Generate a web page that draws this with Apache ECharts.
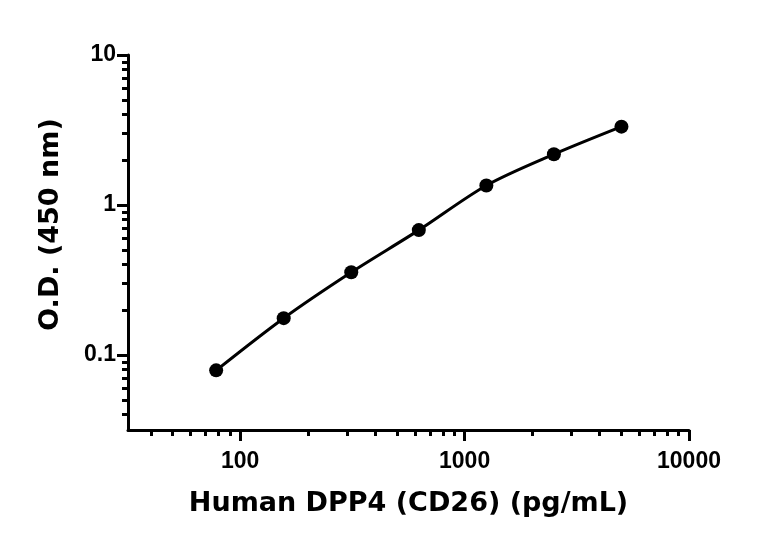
<!DOCTYPE html>
<html>
<head>
<meta charset="utf-8">
<script src="https://cdn.jsdelivr.net/npm/echarts@6/dist/echarts.min.js"></script>
<style>
  html, body { margin: 0; padding: 0; background: #fff; }
  #chart { width: 768px; height: 543px; }
</style>
</head>
<body>
<div id="chart"></div>
<script>
// standard curve readings
var conc = [78.125, 156.25, 312.5, 625, 1250, 2500, 5000];
var od = [0.079, 0.176, 0.356, 0.68, 1.35, 2.18, 3.33];

// axis range and labelled decades
var xRange = [31.62, 10000];
var yRange = [0.03162, 10];
var xTicks = [100, 1000, 10000];
var yTicks = [0.1, 1, 10];

var log = Math.log10;

function minorTicks(range) {
  var out = [];
  var lo = Math.floor(log(range[0])), hi = Math.ceil(log(range[1]));
  for (var n = lo; n < hi; n++) {
    for (var k = 2; k <= 9; k++) {
      var v = k * Math.pow(10, n);
      if (v >= range[0] && v <= range[1]) out.push(log(v));
    }
  }
  return out;
}

function fmt(v) {
  var p = Math.round(v);
  return p < 0 ? Math.pow(10, p).toFixed(-p) : String(Math.pow(10, p));
}

var tickFont = {
  fontFamily: "'Liberation Sans', Arial, sans-serif",
  fontWeight: "bold",
  fontSize: 23,
  color: "#000",
};
var nameFont = {
  fontFamily: "'DejaVu Sans', sans-serif",
  fontWeight: "bold",
  fontSize: 27,
  color: "#000",
};
var black = { color: "#000", width: 3 };

function axisPair(range, major, pos, title, nameGap, namePad) {
  var lo = log(range[0]), hi = log(range[1]);
  return [
    {
      type: "value",
      position: pos,
      min: lo,
      max: hi,
      name: title,
      nameLocation: "middle",
      nameGap: nameGap,
      nameTextStyle: Object.assign({ padding: namePad }, nameFont),
      axisLine: { show: true, onZero: false, lineStyle: black },
      axisTick: { show: true, length: 11, lineStyle: black, customValues: major.map(log) },
      axisLabel: Object.assign({ customValues: major.map(log), formatter: fmt, margin: pos === "bottom" ? 20 : 12 }, tickFont),
      splitLine: { show: false },
    },
    {
      type: "value",
      position: pos,
      min: lo,
      max: hi,
      axisLine: { show: false, onZero: false },
      axisTick: { show: true, length: 6, lineStyle: black, customValues: minorTicks(range) },
      axisLabel: { show: false },
      splitLine: { show: false },
    },
  ];
}

var chart = echarts.init(document.getElementById("chart"));

var option = {
  animation: false,
  grid: { left: 128, right: 79, top: 55, bottom: 113 },
  xAxis: axisPair(xRange, xTicks, "bottom", "Human DPP4 (CD26) (pg/mL)", 60, 0),
  yAxis: axisPair(yRange, yTicks, "left", "O.D. (450 nm)", 64, [0, 0, 0, 36]),
  series: [
    {
      type: "line",
      xAxisIndex: 0,
      yAxisIndex: 0,
      data: conc.map(function (c, i) { return [log(c), log(od[i])]; }),
      smooth: 0.3,
      symbol: "circle",
      symbolSize: 14,
      itemStyle: { color: "#000" },
      lineStyle: { color: "#000", width: 3 },
    },
  ],
};

chart.setOption(option);
</script>
</body>
</html>
